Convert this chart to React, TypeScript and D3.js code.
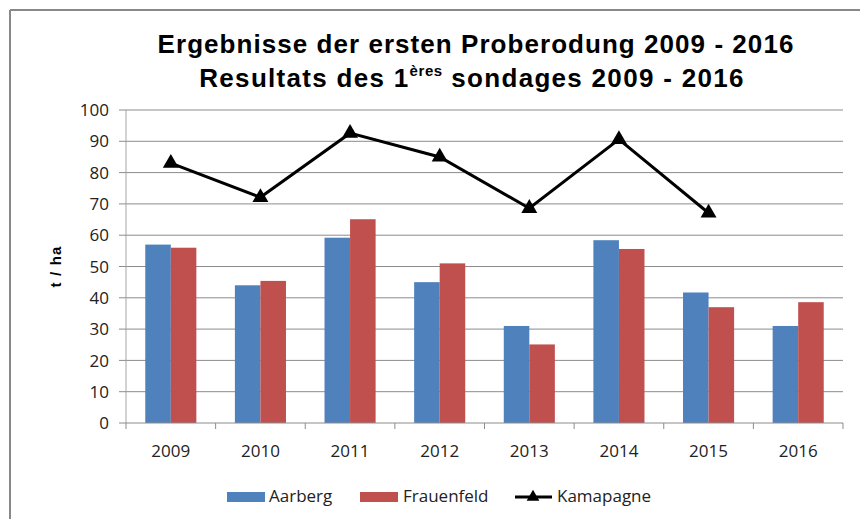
import { useMemo } from "react";
import * as d3 from "d3";

const years = ["2009", "2010", "2011", "2012", "2013", "2014", "2015", "2016"];
const aarberg = [57, 44, 59.2, 45, 31, 58.4, 41.7, 31];
const frauenfeld = [56, 45.4, 65.1, 51, 25.1, 55.6, 37, 38.6];
const kamapagne = [83, 72.1, 92.6, 85, 68.6, 90.6, 67.1];
const yTicks = [0, 10, 20, 30, 40, 50, 60, 70, 80, 90, 100];

const BLUE = "#4f81bd";
const RED = "#c0504d";
const tickFont = "'Open Sans', Lato, sans-serif";
const titleFont = "'Liberation Sans', Arial, sans-serif";

export default function App() {
  const width = 860;
  const height = 519;
  const plot = { left: 126, right: 843, top: 110, bottom: 423 };

  const x = useMemo(
    () => d3.scaleBand<string>().domain(years).range([plot.left, plot.right]),
    []
  );
  const y = useMemo(
    () => d3.scaleLinear().domain([0, 100]).range([plot.bottom, plot.top]),
    []
  );

  const barW = x.bandwidth() * 0.285;

  const line = d3
    .line<number>()
    .x((_, i) => x(years[i])! + x.bandwidth() / 2)
    .y((d) => y(d));

  const tri = d3.symbol().type(d3.symbolTriangle).size(110)();

  return (
    <svg
      width={width}
      height={height}
      style={{ position: "absolute", left: 0, top: 0, background: "#fff" }}
    >
      {/* chart frame */}
      <line x1={10} y1={10} x2={860} y2={10} stroke="#888" strokeWidth={2} />
      <line x1={10} y1={10} x2={10} y2={519} stroke="#888" strokeWidth={2} />

      {/* title */}
      <text
        x={476}
        y={53}
        textAnchor="middle"
        fontFamily={titleFont}
        fontWeight="bold"
        fontSize={26}
        letterSpacing={1.05}
        fill="#000"
      >
        Ergebnisse der ersten Proberodung 2009 - 2016
      </text>
      <text
        x={472}
        y={87}
        textAnchor="middle"
        fontFamily={titleFont}
        fontWeight="bold"
        fontSize={26}
        letterSpacing={1.3}
        fill="#000"
      >
        Resultats des 1
        <tspan fontSize={15} dy={-11} letterSpacing={0.6}>ères</tspan>
        <tspan dy={11}> sondages 2009 - 2016</tspan>
      </text>

      {/* gridlines */}
      {yTicks.slice(1).map((t) => (
        <line
          key={t}
          x1={plot.left}
          x2={plot.right}
          y1={y(t)}
          y2={y(t)}
          stroke="#8c8c8c"
          strokeWidth={1}
        />
      ))}

      {/* y axis */}
      <line x1={plot.left} x2={plot.left} y1={plot.top} y2={plot.bottom} stroke="#a6a6a6" />
      {yTicks.map((t) => (
        <g key={t}>
          <line x1={plot.left - 7} x2={plot.left} y1={y(t)} y2={y(t)} stroke="#8c8c8c" />
          <text
            x={plot.left - 17}
            y={y(t)}
            dy="0.36em"
            textAnchor="end"
            fontFamily={tickFont}
            fontSize={17}
            fill="#222"
          >
            {t}
          </text>
        </g>
      ))}
      <text
        transform={`translate(61,${(plot.top + plot.bottom) / 2}) rotate(-90)`}
        textAnchor="middle"
        fontFamily={titleFont}
        fontWeight="bold"
        fontSize={15}
        letterSpacing={1.2}
        fill="#000"
      >
        t / ha
      </text>

      {/* bars */}
      {years.map((yr, i) => {
        const cx = x(yr)! + x.bandwidth() / 2;
        return (
          <g key={yr}>
            <rect
              x={cx - barW}
              y={y(aarberg[i])}
              width={barW}
              height={plot.bottom - y(aarberg[i])}
              fill={BLUE}
            />
            <rect
              x={cx}
              y={y(frauenfeld[i])}
              width={barW}
              height={plot.bottom - y(frauenfeld[i])}
              fill={RED}
            />
          </g>
        );
      })}

      {/* x axis */}
      <line x1={plot.left} x2={plot.right} y1={plot.bottom} y2={plot.bottom} stroke="#8c8c8c" />
      {years.map((yr) => (
        <line
          key={"t" + yr}
          x1={x(yr)!}
          x2={x(yr)!}
          y1={plot.bottom}
          y2={plot.bottom + 6}
          stroke="#8c8c8c"
        />
      ))}
      <line x1={plot.right} x2={plot.right} y1={plot.bottom} y2={plot.bottom + 6} stroke="#8c8c8c" />
      {years.map((yr) => (
        <text
          key={"l" + yr}
          x={x(yr)! + x.bandwidth() / 2}
          y={457}
          textAnchor="middle"
          fontFamily={tickFont}
          fontSize={17}
          fill="#222"
        >
          {yr}
        </text>
      ))}

      {/* line series */}
      <path d={line(kamapagne) ?? ""} fill="none" stroke="#000" strokeWidth={3} />
      {kamapagne.map((v, i) => (
        <path
          key={i}
          d={tri ?? ""}
          transform={`translate(${x(years[i])! + x.bandwidth() / 2},${y(v)})`}
          fill="#000"
        />
      ))}

      {/* legend */}
      <g fontFamily={tickFont} fontSize={17} fill="#222">
        <rect x={227} y={492} width={38} height={10} fill={BLUE} />
        <text x={269} y={502}>Aarberg</text>
        <rect x={360} y={492} width={38} height={10} fill={RED} />
        <text x={403} y={502}>Frauenfeld</text>
        <line x1={515} x2={552} y1={497} y2={497} stroke="#000" strokeWidth={3} />
        <path d={d3.symbol().type(d3.symbolTriangle).size(70)() ?? ""} transform="translate(533,497)" fill="#000" />
        <text x={557} y={502}>Kamapagne</text>
      </g>
    </svg>
  );
}
